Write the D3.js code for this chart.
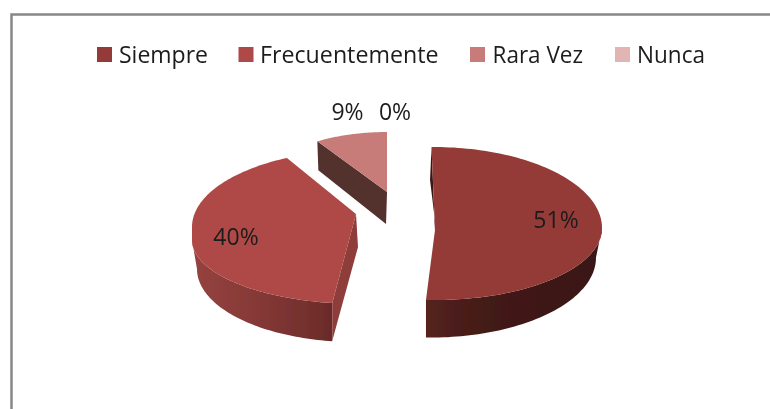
<!DOCTYPE html>
<html><head><meta charset="utf-8">
<script src="https://cdn.jsdelivr.net/npm/d3@7"></script>
<style>html,body{margin:0;padding:0;background:#fff}svg{display:block}text{font-family:"Open Sans",sans-serif;fill:#1c1c1c}</style>
</head><body><svg width="770" height="409"></svg>
<script>
const categories = ["Siempre","Frecuentemente","Rara Vez","Nunca"];
const values = [51,40,9,0];
const labels = ["51%","40%","9%","0%"];
const topColors = ["#943b39","#af4a46","#c87c79","#e0b5b4"];

// slice geometry: separate ellipses for the far rim, near rim and the wall's bottom edge
const geom = [
  {up:{cx:433,cy:228,rx:169,ry:81},low:{cx:435,cy:228,rx:167,ry:72},bot:{cx:430,cy:257.6,rx:166,ry:80},vx:435,vy:230,depth:38,rot:-0.5},
  {up:{cx:362,cy:227,rx:170,ry:77},low:{cx:361,cy:240,rx:169,ry:64},bot:{cx:355,cy:269,rx:158,ry:73},vx:356,vy:214,depth:38,rot:6.2},
  {up:{cx:387,cy:192,rx:130,ry:60},low:{cx:387,cy:192,rx:130,ry:60},vx:387,vy:192,depth:32,rot:0},
  {up:{cx:387,cy:192,rx:130,ry:60},low:{cx:387,cy:192,rx:130,ry:60},vx:387,vy:192,depth:32,rot:0}
];
const labelPos = [[556,219],[236,236],[347.5,110.5],[395,110.5]];
const legendX = [[97,119,89],[238.5,260,178.5],[470,492.5,90.5],[615,637,68]];

const svg = d3.select("svg");
const defs = svg.append("defs");
const soft = defs.append("filter").attr("id","soft").attr("filterUnits","userSpaceOnUse")
  .attr("x",0).attr("y",0).attr("width",770).attr("height",409);
soft.append("feGaussianBlur").attr("stdDeviation",0.4);
const root = svg.append("g").attr("filter","url(#soft)");
root.append("path").attr("d","M11.5 409V14.5H770").attr("fill","none").attr("stroke","#888").attr("stroke-width",2.5);

function grad(id,stops){
  const g = defs.append("linearGradient").attr("id",id);
  stops.forEach(s=>g.append("stop").attr("offset",s[0]).attr("stop-color",s[1]));
}
grad("w1",[[0,"#55221f"],[0.35,"#421a16"],[1,"#3a1613"]]);
grad("w2",[[0,"#954340"],[0.5,"#843835"],[1,"#6a2b29"]]);

const pie = d3.pie().sort(null).value(d=>d);
const arcs = pie(values);
const line = d3.line();
const deg = 180/Math.PI;
const on = (e,a)=>[e.cx+e.rx*Math.sin(a/deg), e.cy-e.ry*Math.cos(a/deg)];
const rng = (a,b,n=60)=>d3.range(n+1).map(i=>a+(b-a)*i/n);
// rim sampled so the far/near switch lands exactly on the side extremes
const rimPts = (g,a,b)=>{
  const breaks=[90,270,450].filter(x=>x>a&&x<b);
  const cuts=[a,...breaks,b];
  const out=[];
  for(let i=0;i<cuts.length-1;i++){
    const s=cuts[i],t=cuts[i+1],mid=((s+t)/2%360+360)%360;
    const e=(mid>=90&&mid<=270)?g.low:g.up;
    rng(s,t).forEach(x=>out.push(on(e,x)));
  }
  return out;
};

arcs.forEach((d,i)=>{
  const g = geom[i];
  const a0 = d.startAngle*deg+g.rot, a1 = d.endAngle*deg+g.rot;
  if (a1-a0<=0) return;
  const layer = root.append("g");
  // outer wall
  if (g.bot){
    const w0 = i===0 ? 90 : a0, w1 = i===0 ? a1 : 270;
    const edge = i===0 ? a1 : a0;
    const px = on(g.low,edge)[0];
    const bEdge = 180+Math.asin((g.bot.cx-px)/g.bot.rx)*deg;
    const b0 = i===0 ? 90 : bEdge, b1 = i===0 ? bEdge : 270;
    const top = rng(w0,w1).map(a=>on(g.low,a));
    const bot = rng(b1,b0).map(a=>on(g.bot,a));
    layer.append("path").attr("d",line(top.concat(bot))+"Z").attr("fill",`url(#w${i+1})`);
  }
  // side faces
  const p = i===1 ? on(g.low,a0) : on(g.up,a0);
  if (i===0){
    layer.append("path").attr("d",line([p,[p[0]-1.5,p[1]+g.depth-5],[g.vx+0.5,g.vy-5],[g.vx,g.vy]])+"Z").attr("fill","#3d1815");
  }
  if (i===1){
    layer.append("path").attr("d",line([[g.vx,g.vy],p,[p[0],p[1]+g.depth],[g.vx+2,g.vy+g.depth-5]])+"Z").attr("fill","#8f3d3a");
  }
  if (i===2){
    layer.append("path").attr("d",line([p,[p[0]+1,p[1]+g.depth-3],[g.vx-1,g.vy+g.depth],[g.vx,g.vy]])+"Z").attr("fill","#52302f");
  }
  // top face
  layer.append("path").attr("d",line([[g.vx,g.vy]].concat(rimPts(g,a0,a1)))+"Z").attr("fill",topColors[i]);
});

// data labels
labels.forEach((t,i)=>{
  root.append("text").attr("x",labelPos[i][0]).attr("y",labelPos[i][1]).attr("text-anchor","middle")
    .attr("dominant-baseline","central").attr("font-size",23).text(t);
});
// legend
categories.forEach((c,i)=>{
  const [sx,tx,tw]=legendX[i];
  root.append("rect").attr("x",sx).attr("y",47).attr("width",15).attr("height",15).attr("fill",topColors[i]);
  root.append("text").attr("x",tx).attr("y",54).attr("dominant-baseline","central").attr("font-size",23)
    .attr("textLength",tw).attr("lengthAdjust","spacingAndGlyphs").text(c);
});
</script></body></html>
